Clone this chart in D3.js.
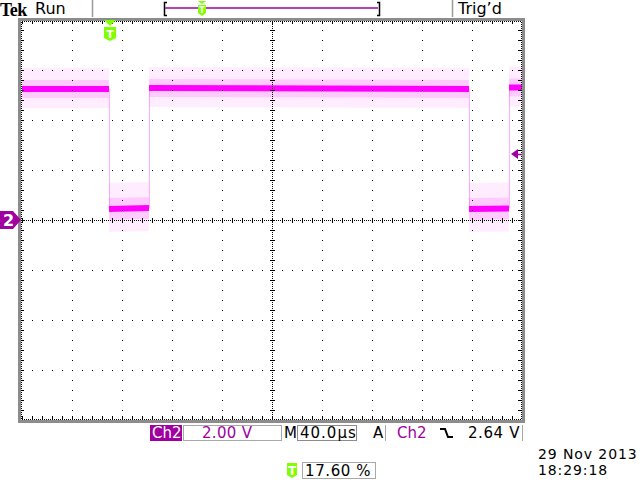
<!DOCTYPE html>
<html>
<head>
<meta charset="utf-8">
<script src="https://cdn.jsdelivr.net/npm/d3@7"></script>
<style>
  body { margin: 0; background: #fff; }
  svg { display: block; font-family: "DejaVu Sans", sans-serif; }
</style>
</head>
<body>
<div id="scope"></div>
<script>
// scope settings
var voltsPerDiv = 2.0;
var usPerDiv = 40.0;
var trigLevel = 2.64;      // V
var trigPct = 17.60;       // trigger position in record (%)
var screenStart = -70.4;   // µs at left edge of graticule
var dateText = "29 Nov 2013";
var timeText = "18:29:18";

// trace: one entry per flat piece of the square wave (µs, V)
var segT0 = [-70.4, -0.8, 31.2, 287.2, 319.2];
var segT1 = [-0.8, 31.2, 287.2, 319.2, 329.6];
var segV0 = [5.24, 0.44, 5.28, 0.44, 5.30];
var segV1 = [5.24, 0.48, 5.24, 0.46, 5.30];
// noise envelope round each piece (V above / below)
var noiseUp = [0.84, 1.04, 0.84, 1.04, 0.84];
var noiseDn = [0.76, 0.92, 0.76, 0.92, 0.76];
var coreUp = [0.36, 0.44, 0.36, 0.44, 0.36];
var coreDn = [0.36, 0.44, 0.36, 0.44, 0.36];

var magenta = "#ff00ff";
var dark = "#a000a0";
var green = "#80ff00";

var width = 640, height = 480;
var gLeft = 22, gRight = 522, gTop = 20, gBottom = 420;

var svg = d3.select("#scope").append("svg")
  .attr("width", width)
  .attr("height", height);
svg.append("rect").attr("width", width).attr("height", height).attr("fill", "#fff");

var x = d3.scaleLinear()
  .domain([screenStart, screenStart + 10 * usPerDiv])
  .range([gLeft, gRight]);
var y = d3.scaleLinear()
  .domain([-4 * voltsPerDiv, 4 * voltsPerDiv])
  .range([gBottom, gTop]);

var segs = segT0.map(function(t, i) {
  return { t0: t, t1: segT1[i], v0: segV0[i], v1: segV1[i],
           up: noiseUp[i], dn: noiseDn[i], cu: coreUp[i], cd: coreDn[i] };
});

// ---- trace ----
var trace = svg.append("g").attr("class", "trace");

function band(upKey, dnKey) {
  return d3.area()
    .x(function(d) { return x(d.t); })
    .y0(function(d) { return y(d.v - d[dnKey]); })
    .y1(function(d) { return y(d.v + d[upKey]); });
}
function pts(s) {
  return [{ t: s.t0, v: s.v0, up: s.up, dn: s.dn, cu: s.cu, cd: s.cd },
          { t: s.t1, v: s.v1, up: s.up, dn: s.dn, cu: s.cu, cd: s.cd }];
}

trace.selectAll("path.outer").data(segs).enter().append("path")
  .attr("class", "outer")
  .attr("d", function(s) { return band("up", "dn")(pts(s)); })
  .attr("fill", magenta).attr("fill-opacity", 0.07);

trace.selectAll("path.core").data(segs).enter().append("path")
  .attr("class", "core")
  .attr("d", function(s) { return band("cu", "cd")(pts(s)); })
  .attr("fill", magenta).attr("fill-opacity", 0.14);

// transitions between the pieces
trace.selectAll("line.edge").data(segs.slice(0, -1)).enter().append("line")
  .attr("class", "edge")
  .attr("x1", function(s) { return Math.round(x(s.t1)) + 0.5; })
  .attr("x2", function(s) { return Math.round(x(s.t1)) + 0.5; })
  .attr("y1", function(s) { return y(s.v1); })
  .attr("y2", function(s, i) { return y(segs[i + 1].v0); })
  .attr("stroke", magenta).attr("stroke-opacity", 0.3).attr("stroke-width", 1);

var lvl = d3.line().x(function(d) { return x(d.t); }).y(function(d) { return y(d.v); });
trace.selectAll("path.level").data(segs).enter().append("path")
  .attr("class", "level")
  .attr("d", function(s) { return lvl(pts(s)); })
  .attr("fill", "none").attr("stroke", magenta).attr("stroke-width", 6);

// ---- graticule ----
var grat = svg.append("g").attr("shape-rendering", "crispEdges")
  .attr("stroke", "#000").attr("stroke-width", 1);
var xDiv = d3.range(0, 11).map(function(i) { return gLeft + i * 50; });
var yDiv = d3.range(0, 9).map(function(i) { return gTop + i * 50; });
var xMinor = d3.range(gLeft, gRight + 1, 10);
var yMinor = d3.range(gTop, gBottom + 1, 10);
var cx = xDiv[5], cy = yDiv[4];

// major lines as dots every minor division
xDiv.slice(1, -1).forEach(function(px) {
  if (px === cx) return;
  grat.append("line").attr("x1", px + 0.5).attr("x2", px + 0.5)
    .attr("y1", gTop).attr("y2", gBottom + 1).attr("stroke-dasharray", "1,9");
});
yDiv.slice(1, -1).forEach(function(py) {
  if (py === cy) return;
  grat.append("line").attr("y1", py + 0.5).attr("y2", py + 0.5)
    .attr("x1", gLeft).attr("x2", gRight + 1).attr("stroke-dasharray", "1,9");
});

// centre axes, dense dots with ticks
grat.append("line").attr("x1", gLeft).attr("x2", gRight)
  .attr("y1", cy + 0.5).attr("y2", cy + 0.5).attr("stroke-dasharray", "1,1");
grat.append("line").attr("y1", gTop).attr("y2", gBottom)
  .attr("x1", cx + 0.5).attr("x2", cx + 0.5).attr("stroke-dasharray", "1,1");
grat.selectAll("line.cxt").data(xMinor).enter().append("line")
  .attr("x1", function(d) { return d + 0.5; }).attr("x2", function(d) { return d + 0.5; })
  .attr("y1", cy - 2).attr("y2", cy + 3);
grat.selectAll("line.cyt").data(yMinor).enter().append("line")
  .attr("y1", function(d) { return d + 0.5; }).attr("y2", function(d) { return d + 0.5; })
  .attr("x1", cx - 2).attr("x2", cx + 3);

// edges: dense dots plus ticks
grat.append("line").attr("x1", gLeft).attr("x2", gRight).attr("y1", 21.5).attr("y2", 21.5).attr("stroke-dasharray", "1,1");
grat.append("line").attr("x1", gLeft).attr("x2", gRight).attr("y1", 419.5).attr("y2", 419.5).attr("stroke-dasharray", "1,1");
grat.append("line").attr("y1", gTop).attr("y2", gBottom).attr("x1", 21.5).attr("x2", 21.5).attr("stroke-dasharray", "1,1");
grat.append("line").attr("y1", gTop).attr("y2", gBottom).attr("x1", 521.5).attr("x2", 521.5).attr("stroke-dasharray", "1,1");
xMinor.forEach(function(px) {
  grat.append("line").attr("x1", px + 0.5).attr("x2", px + 0.5).attr("y1", 21).attr("y2", 24);
  grat.append("line").attr("x1", px + 0.5).attr("x2", px + 0.5).attr("y1", 416).attr("y2", 420);
});
yMinor.forEach(function(py) {
  grat.append("line").attr("y1", py + 0.5).attr("y2", py + 0.5).attr("x1", 21).attr("x2", 24);
  grat.append("line").attr("y1", py + 0.5).attr("y2", py + 0.5).attr("x1", 518).attr("x2", 522);
});

// grey frame
svg.append("rect").attr("x", 19.5).attr("y", 19.5).attr("width", 504).attr("height", 402)
  .attr("fill", "none").attr("stroke", "#8c8c8c").attr("stroke-width", 3)
  .attr("shape-rendering", "crispEdges");

// ---- markers ----
function tShield(g, px, ty0, w, h) {
  var hw = w / 2;
  g.append("path")
    .attr("d", "M" + (px - hw) + "," + ty0 + "H" + (px + hw) + "V" + (ty0 + h - 3) +
      "L" + px + "," + (ty0 + h) + "L" + (px - hw) + "," + (ty0 + h - 3) + "Z")
    .attr("fill", green);
  g.append("text").attr("x", px).attr("y", ty0 + h - 3.5)
    .attr("text-anchor", "middle").attr("fill", "#fff")
    .attr("font-size", h - 3).attr("font-weight", "bold").text("T");
}

// trigger position on graticule
var tx = Math.round(x(0));
var mk = svg.append("g");
mk.append("path").attr("d", "M" + (tx - 6) + ",20L" + (tx + 6) + ",20L" + tx + ",26Z").attr("fill", green);
tShield(mk, tx, 27, 12, 14);

// ground marker for channel 2
var gy = y(0);
svg.append("path")
  .attr("d", "M0," + (gy - 9) + "H13L21," + gy + "L13," + (gy + 9) + "H0Z")
  .attr("fill", dark);
svg.append("text").attr("x", 3).attr("y", gy + 6).attr("fill", "#fff")
  .attr("font-size", 16).attr("font-weight", "bold").text("2");

// trigger level arrow
var ty = Math.round(y(trigLevel));
svg.append("path").attr("d", "M511," + ty + "L518," + (ty - 5) + "V" + (ty + 5) + "Z").attr("fill", dark);
svg.append("line").attr("x1", 517).attr("x2", 522).attr("y1", ty + 0.5).attr("y2", ty + 0.5)
  .attr("stroke", dark).attr("stroke-width", 1.5);

// ---- top status bar ----
var topBar = svg.append("g");
topBar.append("text").attr("x", 0).attr("y", 16)
  .attr("font-family", "Liberation Serif, serif").attr("font-weight", "bold")
  .attr("font-size", 18).attr("letter-spacing", -0.6).text("Tek");
topBar.append("text").attr("x", 35).attr("y", 14).attr("font-size", 16).text("Run");
topBar.append("line").attr("x1", 92.5).attr("x2", 92.5).attr("y1", 0).attr("y2", 17)
  .attr("stroke", "#9a9a9a").attr("stroke-width", 1.5);
topBar.append("line").attr("x1", 452.5).attr("x2", 452.5).attr("y1", 0).attr("y2", 17)
  .attr("stroke", "#9a9a9a").attr("stroke-width", 1.5);
topBar.append("text").attr("x", 458).attr("y", 14).attr("font-size", 16).text("Trig\u2019d");

var recL = 165, recR = 378;
topBar.append("path").attr("d", "M167,2.5H164.5V15.5H167").attr("fill", "none").attr("stroke", "#000").attr("stroke-width", 1.5);
topBar.append("path").attr("d", "M377,2.5H379.5V15.5H377").attr("fill", "none").attr("stroke", "#000").attr("stroke-width", 1.5);
topBar.append("line").attr("x1", recL).attr("x2", recR).attr("y1", 8).attr("y2", 8)
  .attr("stroke", dark).attr("stroke-width", 1.5);
var rx = Math.round(recL + (recR - recL) * trigPct / 100);
topBar.append("path").attr("d", "M" + (rx - 4) + ",1L" + (rx + 4) + ",1L" + rx + ",4Z").attr("fill", green);
tShield(topBar, rx, 5, 8, 11);

// ---- bottom readouts ----
var bot = svg.append("g").attr("font-size", 15);
var f2 = d3.format(".2f"), f1 = d3.format(".1f");

bot.append("rect").attr("x", 150).attr("y", 425).attr("width", 32).attr("height", 16).attr("fill", dark);
bot.append("text").attr("x", 152).attr("y", 438).attr("fill", "#fff").text("Ch2");
bot.append("rect").attr("x", 183.5).attr("y", 425.5).attr("width", 98).attr("height", 15)
  .attr("fill", "none").attr("stroke", "#a8a8a8");
bot.append("text").attr("x", 202).attr("y", 438).attr("fill", dark).attr("letter-spacing", 0.3)
  .text(f2(voltsPerDiv) + " V");

bot.append("text").attr("x", 284).attr("y", 438).text("M");
bot.append("rect").attr("x", 297.5).attr("y", 425.5).attr("width", 59).attr("height", 15)
  .attr("fill", "none").attr("stroke", "#8c8c8c");
bot.append("text").attr("x", 300).attr("y", 438).attr("letter-spacing", 1)
  .text(f1(usPerDiv) + "\u00b5s");

bot.append("text").attr("x", 373).attr("y", 438).text("A");
bot.append("line").attr("x1", 385.5).attr("x2", 385.5).attr("y1", 425).attr("y2", 441).attr("stroke", "#a8a8a8");
bot.append("line").attr("x1", 522.5).attr("x2", 522.5).attr("y1", 425).attr("y2", 441).attr("stroke", "#a8a8a8");
bot.append("text").attr("x", 397).attr("y", 438).attr("fill", dark).text("Ch2");
bot.append("path").attr("d", "M440,429H445L448,437H453").attr("fill", "none")
  .attr("stroke", "#000").attr("stroke-width", 2);
bot.append("text").attr("x", 520).attr("y", 438).attr("text-anchor", "end").attr("letter-spacing", 0.6)
  .text(f2(trigLevel) + " V");

tShield(bot, 292, 463, 10, 15);
bot.append("rect").attr("x", 302.5).attr("y", 462.5).attr("width", 73).attr("height", 16)
  .attr("fill", "none").attr("stroke", "#a8a8a8");
bot.append("text").attr("x", 305).attr("y", 476).attr("letter-spacing", 0.6)
  .text(f2(trigPct) + " %");

bot.append("text").attr("x", 538).attr("y", 459).attr("font-size", 14).attr("letter-spacing", 0.9).text(dateText);
bot.append("text").attr("x", 538).attr("y", 475).attr("font-size", 14).attr("letter-spacing", 0.9).text(timeText);
</script>
</body>
</html>
